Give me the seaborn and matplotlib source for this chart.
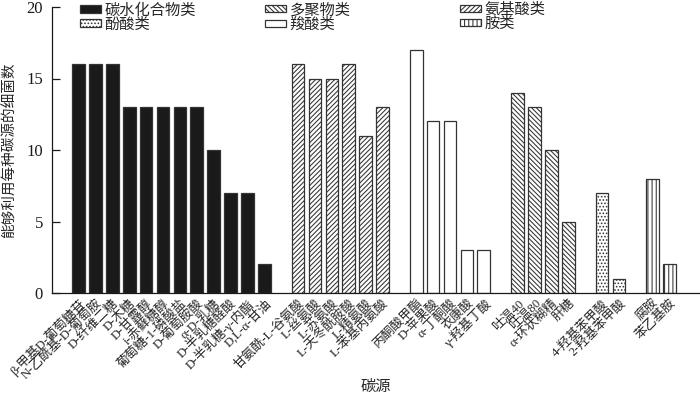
import matplotlib
matplotlib.use('Agg')
import matplotlib.pyplot as plt
import numpy as np
import pandas as pd
import seaborn as sns
from matplotlib.patches import Patch

# ---- data ----
carb_names = ['β-甲基D-葡萄糖苷', 'N-乙酰基-D-葡萄胺', 'D-纤维二糖', 'D-木糖', 'D-甘露醇',
              'i-赤藓糖醇', '葡萄糖-1-磷酸盐', 'D-葡萄胺酸', 'α-D-乳糖', 'D-半乳糖醛酸',
              'D-半乳糖-γ-内酯', 'D,L-α-甘油']
carb_vals = [16, 16, 16, 13, 13, 13, 13, 13, 10, 7, 7, 2]

amino_names = ['甘氨酰-L-谷氨酸', 'L-丝氨酸', 'L-苏氨酸', 'L-天冬酰胺酸', 'L-精氨酸', 'L-苯基丙氨酸']
amino_vals = [16, 15, 15, 16, 11, 13]

carbox_names = ['丙酮酸甲酯', 'D-苹果酸', 'α-丁酮酸', '衣康酸', 'γ-羟基丁酸']
carbox_vals = [17, 12, 12, 3, 3]

poly_names = ['吐温40', '吐温80', 'α-环状糊精', '肝糖']
poly_vals = [14, 13, 10, 5]

phen_names = ['4-羟基苯甲酸', '2-羟基苯甲酸']
phen_vals = [7, 1]

amine_names = ['腐胺', '苯乙基胺']
amine_vals = [8, 2]

groups = ['碳水化合物类', '氨基酸类', '羧酸类', '多聚物类', '酚酸类', '胺类']
legend_cols = [['碳水化合物类', '酚酸类'], ['多聚物类', '羧酸类'], ['氨基酸类', '胺类']]

# ---- styles ----
face = {'碳水化合物类': '#1a1a1a', '氨基酸类': 'white', '羧酸类': 'white',
        '多聚物类': 'white', '酚酸类': 'white', '胺类': 'white'}
hatch = {'碳水化合物类': '', '氨基酸类': '///////', '羧酸类': '',
         '多聚物类': '\\\\\\\\\\\\\\', '酚酸类': '.....', '胺类': '||||'}
edge = '#333333'

sns.set_theme(style='ticks')
plt.rcParams['font.family'] = ['Liberation Serif', 'Noto Sans CJK SC']
plt.rcParams['axes.unicode_minus'] = False
plt.rcParams['hatch.linewidth'] = 0.75

name_lists = [carb_names, amino_names, carbox_names, poly_names, phen_names, amine_names]
val_lists = [carb_vals, amino_vals, carbox_vals, poly_vals, phen_vals, amine_vals]
rows = []
order = []
for gi, (g, ns, vs) in enumerate(zip(groups, name_lists, val_lists)):
    if gi > 0:
        order.append(' ' * gi)
    for n, v in zip(ns, vs):
        rows.append({'name': n, 'value': v, 'group': g})
        order.append(n)
df = pd.DataFrame(rows)

fig = plt.figure(figsize=(7, 3.96), dpi=100)
ax = fig.add_axes([52 / 700, 1 - 293 / 396, 1 - 52 / 700, (293 - 7) / 396])

sns.barplot(data=df, x='name', y='value', hue='group', order=order, hue_order=groups,
            palette=face, dodge=False, width=0.75, edgecolor=edge, linewidth=0.9,
            saturation=1, errorbar=None, legend=False, ax=ax)
for cont, g in zip(ax.containers, groups):
    for p in cont:
        p.set_hatch(hatch[g])
        p.set_edgecolor(edge)

ax.set_ylim(0, 20)
ax.set_xlim(-1.57, 36.8)
ax.set_yticks([0, 5, 10, 15, 20])
ax.tick_params(axis='y', direction='in', length=6, width=0.9, pad=6.5, labelsize=12, colors='#1a1a1a')
ax.tick_params(axis='x', length=0, pad=3)
ax.set_xticks(range(len(order)))
ax.set_xticklabels(order, rotation=45, ha='right', rotation_mode='anchor', fontsize=9.2)
for s in ['top', 'right']:
    ax.spines[s].set_visible(False)
for s in ['left', 'bottom']:
    ax.spines[s].set_linewidth(0.9)
    ax.spines[s].set_color('#1a1a1a')

ax.set_ylabel('能够利用每种碳源的细菌数', fontsize=10.5)
ax.yaxis.set_label_coords(-0.054, 0.5)
ax.set_xlabel('碳源', fontsize=11)
ax.xaxis.set_label_coords(0.5, -0.302)

for colx, labs in zip([80, 265, 460], legend_cols):
    handles = [Patch(facecolor=face[l], edgecolor=edge, hatch=hatch[l], linewidth=0.9) for l in labs]
    fig.legend(handles, labs, loc='upper left', bbox_to_anchor=(colx / 700, 1 - 3 / 396),
               bbox_transform=fig.transFigure, frameon=False, fontsize=11,
               handlelength=1.35, handleheight=0.35, handletextpad=0.25,
               labelspacing=0.0, borderpad=0, borderaxespad=0)

fig.savefig('out.png', dpi=100)
